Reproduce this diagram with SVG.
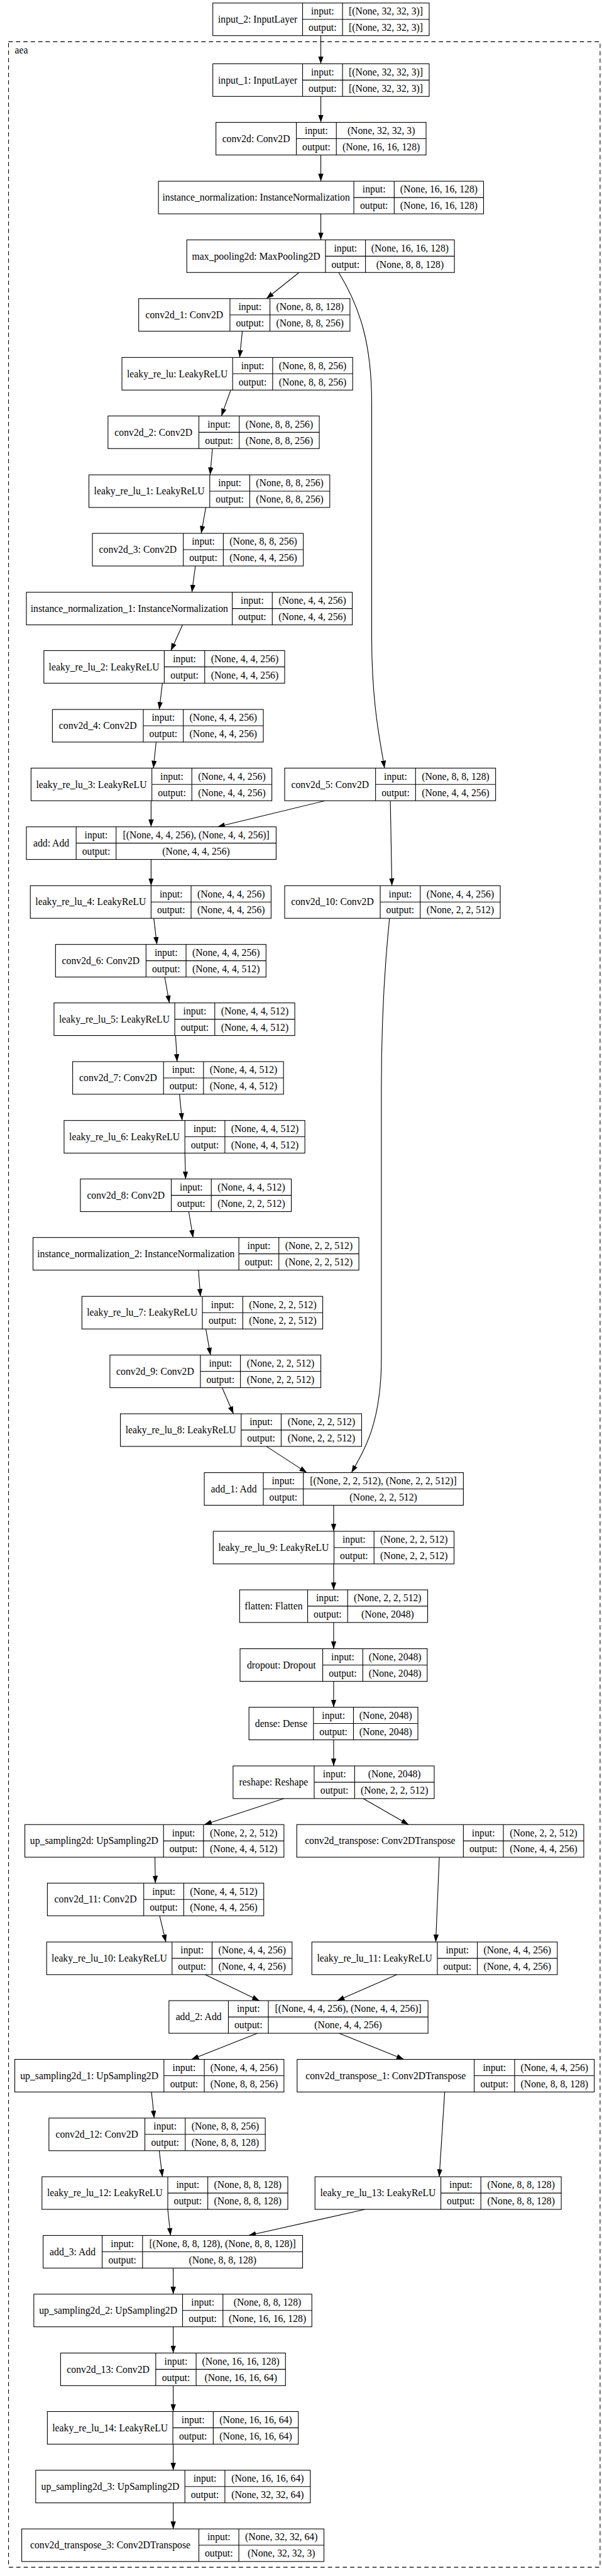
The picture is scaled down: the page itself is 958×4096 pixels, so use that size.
<svg xmlns="http://www.w3.org/2000/svg" width="958" height="4096" viewBox="0 0 958 4096">
<style>
.node rect{fill:#fff;stroke:#000;stroke-width:1.3}
.node path{fill:none;stroke:#000;stroke-width:1.3}
text{font-family:"Liberation Serif","Times New Roman",serif;font-size:18.67px;text-anchor:middle;fill:#000}
#edges path{fill:none;stroke:#000;stroke-width:1.3;marker-end:url(#ah)}
#cluster_aea rect{fill:none;stroke:#000;stroke-width:1.3;stroke-dasharray:8,6}
</style>
<defs>
<marker id="ah" markerUnits="userSpaceOnUse" markerWidth="14" markerHeight="10" refX="14" refY="5" orient="auto" viewBox="0 0 14 10"><path d="M0,0L14,5L0,10z" fill="#000"/></marker>
</defs>
<rect width="958" height="4096" fill="#fff"/>
<g transform="scale(0.8433)">
<g id="cluster_aea"><rect x="16.1" y="78.7" width="1116.3" height="4762"/><text x="27.9" y="100.7" style="text-anchor:start">aea</text></g>
<g id="edges">
<path d="M605.4,67.2V120.3"/>
<path d="M605.4,181.8V230.7"/>
<path d="M605.4,292.2V341.7"/>
<path d="M605.4,403.2V452.3"/>
<path d="M564.4,513.8L502.8,563"/>
<path d="M639.1,513.8C680,580 701.4,650 701.4,760L701.4,1200C701.4,1330 718,1400 725.6,1448.3"/>
<path d="M457.3,624.5L452.2,674"/>
<path d="M435.4,735.5L417.8,784.3"/>
<path d="M400.9,845.8L396.5,895.3"/>
<path d="M388.4,956.8L379.7,1005.7"/>
<path d="M368.7,1067.2L362.1,1116.7"/>
<path d="M344.5,1178.2L322.5,1226.7"/>
<path d="M306.4,1288.2L300.5,1337.7"/>
<path d="M294.6,1399.2L289.5,1448.3"/>
<path d="M285.1,1509.8L285.1,1559"/>
<path d="M613.4,1509.8L410.4,1559"/>
<path d="M736.6,1509.8L739.5,1670"/>
<path d="M285.1,1620.5L285.1,1670"/>
<path d="M290.2,1731.5L296.1,1780.7"/>
<path d="M310.8,1842.2L319.6,1891"/>
<path d="M331.3,1952.5L334.2,2001.7"/>
<path d="M338.6,2063.2L343.7,2112.7"/>
<path d="M348.9,2174.2L350.3,2223"/>
<path d="M356.2,2284.5L364.3,2333.3"/>
<path d="M374.5,2394.8L378.2,2444.3"/>
<path d="M388.4,2505.8L397.2,2555"/>
<path d="M419.2,2616.5L440.5,2665.7"/>
<path d="M502.8,2727.2L579,2776.7"/>
<path d="M735.1,1731.5C728,1800 719.7,1900 719.7,2050L719.7,2560C719.7,2680 690,2730 663.3,2776.7"/>
<path d="M629.6,2838.2V2887.3"/>
<path d="M629.6,2948.8V2997.7"/>
<path d="M629.6,3059.2V3108.7"/>
<path d="M629.6,3170.2V3219"/>
<path d="M629.6,3280.5V3329.7"/>
<path d="M535.8,3391.2L385.5,3440.3"/>
<path d="M685.3,3391.2L771,3440.3"/>
<path d="M292.4,3501.8L293.2,3550.7"/>
<path d="M829,3501.8L822.3,3661.7"/>
<path d="M301.2,3612.2L313,3661.7"/>
<path d="M387,3723.2L489.6,3772.3"/>
<path d="M749,3723.2L636.2,3772.3"/>
<path d="M485.9,3833.8L361.3,3883"/>
<path d="M639.8,3833.8L762.2,3883"/>
<path d="M285.8,3944.5L291,3993.7"/>
<path d="M839.2,3944.5L828.9,4104.3"/>
<path d="M300.5,4055.2L306.4,4104.3"/>
<path d="M316.6,4165.8L321.8,4215"/>
<path d="M689,4165.8L469.1,4215"/>
<path d="M326.9,4276.5V4325.7"/>
<path d="M326.9,4387.2V4436.7"/>
<path d="M326.9,4498.2V4547"/>
<path d="M326.9,4608.5V4657.7"/>
<path d="M326.9,4719.2V4768.3"/>
</g>
<g id="input_2" class="node" transform="translate(0,5.7)"><rect x="401.6" y="0" width="408.3" height="61.5"/><path d="M571 0V61.5M646.4 0V61.5M571 30.75H809.9"/><text x="486.3" y="37">input_2: InputLayer</text><text x="608.7" y="21.7">input:</text><text x="608.7" y="52.4">output:</text><text x="728.15" y="21.7">[(None, 32, 32, 3)]</text><text x="728.15" y="52.4">[(None, 32, 32, 3)]</text></g>
<g id="input_1" class="node" transform="translate(0,120.3)"><rect x="401.6" y="0" width="408.3" height="61.5"/><path d="M571 0V61.5M646.4 0V61.5M571 30.75H809.9"/><text x="486.3" y="37">input_1: InputLayer</text><text x="608.7" y="21.7">input:</text><text x="608.7" y="52.4">output:</text><text x="728.15" y="21.7">[(None, 32, 32, 3)]</text><text x="728.15" y="52.4">[(None, 32, 32, 3)]</text></g>
<g id="conv2d" class="node" transform="translate(0,230.7)"><rect x="407.5" y="0" width="396.5" height="61.5"/><path d="M559.2 0V61.5M634.7 0V61.5M559.2 30.75H804"/><text x="483.35" y="37">conv2d: Conv2D</text><text x="596.95" y="21.7">input:</text><text x="596.95" y="52.4">output:</text><text x="719.35" y="21.7">(None, 32, 32, 3)</text><text x="719.35" y="52.4">(None, 16, 16, 128)</text></g>
<g id="instance_normalization" class="node" transform="translate(0,341.7)"><rect x="299" y="0" width="613.5" height="61.5"/><path d="M667.7 0V61.5M743.9 0V61.5M667.7 30.75H912.5"/><text x="483.35" y="37">instance_normalization: InstanceNormalization</text><text x="705.8" y="21.7">input:</text><text x="705.8" y="52.4">output:</text><text x="828.2" y="21.7">(None, 16, 16, 128)</text><text x="828.2" y="52.4">(None, 16, 16, 128)</text></g>
<g id="max_pooling2d" class="node" transform="translate(0,452.3)"><rect x="352.5" y="0" width="505" height="61.5"/><path d="M614.2 0V61.5M689.7 0V61.5M614.2 30.75H857.5"/><text x="483.35" y="37">max_pooling2d: MaxPooling2D</text><text x="651.95" y="21.7">input:</text><text x="651.95" y="52.4">output:</text><text x="773.6" y="21.7">(None, 16, 16, 128)</text><text x="773.6" y="52.4">(None, 8, 8, 128)</text></g>
<g id="conv2d_1" class="node" transform="translate(0,563)"><rect x="261.7" y="0" width="398.7" height="61.5"/><path d="M433.9 0V61.5M509.4 0V61.5M433.9 30.75H660.4"/><text x="347.8" y="37">conv2d_1: Conv2D</text><text x="471.65" y="21.7">input:</text><text x="471.65" y="52.4">output:</text><text x="584.9" y="21.7">(None, 8, 8, 128)</text><text x="584.9" y="52.4">(None, 8, 8, 256)</text></g>
<g id="leaky_re_lu" class="node" transform="translate(0,674)"><rect x="230.1" y="0" width="435.4" height="61.5"/><path d="M439 0V61.5M514.5 0V61.5M439 30.75H665.5"/><text x="334.55" y="37">leaky_re_lu: LeakyReLU</text><text x="476.75" y="21.7">input:</text><text x="476.75" y="52.4">output:</text><text x="590" y="21.7">(None, 8, 8, 256)</text><text x="590" y="52.4">(None, 8, 8, 256)</text></g>
<g id="conv2d_2" class="node" transform="translate(0,784.3)"><rect x="203.8" y="0" width="398.7" height="61.5"/><path d="M375.3 0V61.5M451.5 0V61.5M375.3 30.75H602.5"/><text x="289.55" y="37">conv2d_2: Conv2D</text><text x="413.4" y="21.7">input:</text><text x="413.4" y="52.4">output:</text><text x="527" y="21.7">(None, 8, 8, 256)</text><text x="527" y="52.4">(None, 8, 8, 256)</text></g>
<g id="leaky_re_lu_1" class="node" transform="translate(0,895.3)"><rect x="167.8" y="0" width="454.5" height="61.5"/><path d="M395.8 0V61.5M471.3 0V61.5M395.8 30.75H622.3"/><text x="281.8" y="37">leaky_re_lu_1: LeakyReLU</text><text x="433.55" y="21.7">input:</text><text x="433.55" y="52.4">output:</text><text x="546.8" y="21.7">(None, 8, 8, 256)</text><text x="546.8" y="52.4">(None, 8, 8, 256)</text></g>
<g id="conv2d_3" class="node" transform="translate(0,1005.7)"><rect x="174.4" y="0" width="398" height="61.5"/><path d="M345.9 0V61.5M421.4 0V61.5M345.9 30.75H572.4"/><text x="260.15" y="37">conv2d_3: Conv2D</text><text x="383.65" y="21.7">input:</text><text x="383.65" y="52.4">output:</text><text x="496.9" y="21.7">(None, 8, 8, 256)</text><text x="496.9" y="52.4">(None, 4, 4, 256)</text></g>
<g id="instance_normalization_1" class="node" transform="translate(0,1116.7)"><rect x="49.8" y="0" width="615" height="61.5"/><path d="M438.3 0V61.5M513.8 0V61.5M438.3 30.75H664.8"/><text x="244.05" y="37">instance_normalization_1: InstanceNormalization</text><text x="476.05" y="21.7">input:</text><text x="476.05" y="52.4">output:</text><text x="589.3" y="21.7">(None, 4, 4, 256)</text><text x="589.3" y="52.4">(None, 4, 4, 256)</text></g>
<g id="leaky_re_lu_2" class="node" transform="translate(0,1226.7)"><rect x="82.8" y="0" width="454.4" height="61.5"/><path d="M310 0V61.5M386.3 0V61.5M310 30.75H537.2"/><text x="196.4" y="37">leaky_re_lu_2: LeakyReLU</text><text x="348.15" y="21.7">input:</text><text x="348.15" y="52.4">output:</text><text x="461.75" y="21.7">(None, 4, 4, 256)</text><text x="461.75" y="52.4">(None, 4, 4, 256)</text></g>
<g id="conv2d_4" class="node" transform="translate(0,1337.7)"><rect x="98.9" y="0" width="398" height="61.5"/><path d="M270.4 0V61.5M345.9 0V61.5M270.4 30.75H496.9"/><text x="184.65" y="37">conv2d_4: Conv2D</text><text x="308.15" y="21.7">input:</text><text x="308.15" y="52.4">output:</text><text x="421.4" y="21.7">(None, 4, 4, 256)</text><text x="421.4" y="52.4">(None, 4, 4, 256)</text></g>
<g id="leaky_re_lu_3" class="node" transform="translate(0,1448.3)"><rect x="58.6" y="0" width="454.4" height="61.5"/><path d="M286.6 0V61.5M362 0V61.5M286.6 30.75H513"/><text x="172.6" y="37">leaky_re_lu_3: LeakyReLU</text><text x="324.3" y="21.7">input:</text><text x="324.3" y="52.4">output:</text><text x="437.5" y="21.7">(None, 4, 4, 256)</text><text x="437.5" y="52.4">(None, 4, 4, 256)</text></g>
<g id="conv2d_5" class="node" transform="translate(0,1448.3)"><rect x="537.2" y="0" width="398" height="61.5"/><path d="M708.7 0V61.5M784.2 0V61.5M708.7 30.75H935.2"/><text x="622.95" y="37">conv2d_5: Conv2D</text><text x="746.45" y="21.7">input:</text><text x="746.45" y="52.4">output:</text><text x="859.7" y="21.7">(None, 8, 8, 128)</text><text x="859.7" y="52.4">(None, 4, 4, 256)</text></g>
<g id="add" class="node" transform="translate(0,1559)"><rect x="49.8" y="0" width="471.3" height="61.5"/><path d="M143.7 0V61.5M219.1 0V61.5M143.7 30.75H521.1"/><text x="96.75" y="37">add: Add</text><text x="181.4" y="21.7">input:</text><text x="181.4" y="52.4">output:</text><text x="370.1" y="21.7">[(None, 4, 4, 256), (None, 4, 4, 256)]</text><text x="370.1" y="52.4">(None, 4, 4, 256)</text></g>
<g id="leaky_re_lu_4" class="node" transform="translate(0,1670)"><rect x="57.2" y="0" width="454.4" height="61.5"/><path d="M285.1 0V61.5M360.6 0V61.5M285.1 30.75H511.6"/><text x="171.15" y="37">leaky_re_lu_4: LeakyReLU</text><text x="322.85" y="21.7">input:</text><text x="322.85" y="52.4">output:</text><text x="436.1" y="21.7">(None, 4, 4, 256)</text><text x="436.1" y="52.4">(None, 4, 4, 256)</text></g>
<g id="conv2d_10" class="node" transform="translate(0,1670)"><rect x="537.2" y="0" width="406.8" height="61.5"/><path d="M717.5 0V61.5M793 0V61.5M717.5 30.75H944"/><text x="627.35" y="37">conv2d_10: Conv2D</text><text x="755.25" y="21.7">input:</text><text x="755.25" y="52.4">output:</text><text x="868.5" y="21.7">(None, 4, 4, 256)</text><text x="868.5" y="52.4">(None, 2, 2, 512)</text></g>
<g id="conv2d_6" class="node" transform="translate(0,1780.7)"><rect x="104.8" y="0" width="397.2" height="61.5"/><path d="M275.6 0V61.5M351.1 0V61.5M275.6 30.75H502"/><text x="190.2" y="37">conv2d_6: Conv2D</text><text x="313.35" y="21.7">input:</text><text x="313.35" y="52.4">output:</text><text x="426.55" y="21.7">(None, 4, 4, 256)</text><text x="426.55" y="52.4">(None, 4, 4, 512)</text></g>
<g id="leaky_re_lu_5" class="node" transform="translate(0,1891)"><rect x="101.9" y="0" width="454.4" height="61.5"/><path d="M329.8 0V61.5M405.3 0V61.5M329.8 30.75H556.3"/><text x="215.85" y="37">leaky_re_lu_5: LeakyReLU</text><text x="367.55" y="21.7">input:</text><text x="367.55" y="52.4">output:</text><text x="480.8" y="21.7">(None, 4, 4, 512)</text><text x="480.8" y="52.4">(None, 4, 4, 512)</text></g>
<g id="conv2d_7" class="node" transform="translate(0,2001.7)"><rect x="137.1" y="0" width="397.9" height="61.5"/><path d="M308.6 0V61.5M384 0V61.5M308.6 30.75H535"/><text x="222.85" y="37">conv2d_7: Conv2D</text><text x="346.3" y="21.7">input:</text><text x="346.3" y="52.4">output:</text><text x="459.5" y="21.7">(None, 4, 4, 512)</text><text x="459.5" y="52.4">(None, 4, 4, 512)</text></g>
<g id="leaky_re_lu_6" class="node" transform="translate(0,2112.7)"><rect x="120.9" y="0" width="454.4" height="61.5"/><path d="M348.9 0V61.5M424.4 0V61.5M348.9 30.75H575.3"/><text x="234.9" y="37">leaky_re_lu_6: LeakyReLU</text><text x="386.65" y="21.7">input:</text><text x="386.65" y="52.4">output:</text><text x="499.85" y="21.7">(None, 4, 4, 512)</text><text x="499.85" y="52.4">(None, 4, 4, 512)</text></g>
<g id="conv2d_8" class="node" transform="translate(0,2223)"><rect x="151.7" y="0" width="398" height="61.5"/><path d="M323.2 0V61.5M398.7 0V61.5M323.2 30.75H549.7"/><text x="237.45" y="37">conv2d_8: Conv2D</text><text x="360.95" y="21.7">input:</text><text x="360.95" y="52.4">output:</text><text x="474.2" y="21.7">(None, 4, 4, 512)</text><text x="474.2" y="52.4">(None, 2, 2, 512)</text></g>
<g id="instance_normalization_2" class="node" transform="translate(0,2333.3)"><rect x="62.3" y="0" width="614.9" height="61.5"/><path d="M450.7 0V61.5M526.2 0V61.5M450.7 30.75H677.2"/><text x="256.5" y="37">instance_normalization_2: InstanceNormalization</text><text x="488.45" y="21.7">input:</text><text x="488.45" y="52.4">output:</text><text x="601.7" y="21.7">(None, 2, 2, 512)</text><text x="601.7" y="52.4">(None, 2, 2, 512)</text></g>
<g id="leaky_re_lu_7" class="node" transform="translate(0,2444.3)"><rect x="154.6" y="0" width="454.4" height="61.5"/><path d="M381.9 0V61.5M458.1 0V61.5M381.9 30.75H609"/><text x="268.25" y="37">leaky_re_lu_7: LeakyReLU</text><text x="420" y="21.7">input:</text><text x="420" y="52.4">output:</text><text x="533.55" y="21.7">(None, 2, 2, 512)</text><text x="533.55" y="52.4">(None, 2, 2, 512)</text></g>
<g id="conv2d_9" class="node" transform="translate(0,2555)"><rect x="207.4" y="0" width="398" height="61.5"/><path d="M378.2 0V61.5M453.7 0V61.5M378.2 30.75H605.4"/><text x="292.8" y="37">conv2d_9: Conv2D</text><text x="415.95" y="21.7">input:</text><text x="415.95" y="52.4">output:</text><text x="529.55" y="21.7">(None, 2, 2, 512)</text><text x="529.55" y="52.4">(None, 2, 2, 512)</text></g>
<g id="leaky_re_lu_8" class="node" transform="translate(0,2665.7)"><rect x="227.2" y="0" width="455.2" height="61.5"/><path d="M455.1 0V61.5M530.6 0V61.5M455.1 30.75H682.4"/><text x="341.15" y="37">leaky_re_lu_8: LeakyReLU</text><text x="492.85" y="21.7">input:</text><text x="492.85" y="52.4">output:</text><text x="606.5" y="21.7">(None, 2, 2, 512)</text><text x="606.5" y="52.4">(None, 2, 2, 512)</text></g>
<g id="add_1" class="node" transform="translate(0,2776.7)"><rect x="385.5" y="0" width="488.9" height="61.5"/><path d="M496.9 0V61.5M572.4 0V61.5M496.9 30.75H874.4"/><text x="441.2" y="37">add_1: Add</text><text x="534.65" y="21.7">input:</text><text x="534.65" y="52.4">output:</text><text x="723.4" y="21.7">[(None, 2, 2, 512), (None, 2, 2, 512)]</text><text x="723.4" y="52.4">(None, 2, 2, 512)</text></g>
<g id="leaky_re_lu_9" class="node" transform="translate(0,2887.3)"><rect x="402.4" y="0" width="454.4" height="61.5"/><path d="M630.3 0V61.5M705.8 0V61.5M630.3 30.75H856.8"/><text x="516.35" y="37">leaky_re_lu_9: LeakyReLU</text><text x="668.05" y="21.7">input:</text><text x="668.05" y="52.4">output:</text><text x="781.3" y="21.7">(None, 2, 2, 512)</text><text x="781.3" y="52.4">(None, 2, 2, 512)</text></g>
<g id="flatten" class="node" transform="translate(0,2997.7)"><rect x="452.2" y="0" width="354.8" height="61.5"/><path d="M580.5 0V61.5M656 0V61.5M580.5 30.75H807"/><text x="516.35" y="37">flatten: Flatten</text><text x="618.25" y="21.7">input:</text><text x="618.25" y="52.4">output:</text><text x="731.5" y="21.7">(None, 2, 2, 512)</text><text x="731.5" y="52.4">(None, 2048)</text></g>
<g id="dropout" class="node" transform="translate(0,3108.7)"><rect x="453" y="0" width="353.2" height="61.5"/><path d="M609 0V61.5M684.6 0V61.5M609 30.75H806.2"/><text x="531" y="37">dropout: Dropout</text><text x="646.8" y="21.7">input:</text><text x="646.8" y="52.4">output:</text><text x="745.4" y="21.7">(None, 2048)</text><text x="745.4" y="52.4">(None, 2048)</text></g>
<g id="dense" class="node" transform="translate(0,3219)"><rect x="469.8" y="0" width="318.8" height="61.5"/><path d="M591.5 0V61.5M667 0V61.5M591.5 30.75H788.6"/><text x="530.65" y="37">dense: Dense</text><text x="629.25" y="21.7">input:</text><text x="629.25" y="52.4">output:</text><text x="727.8" y="21.7">(None, 2048)</text><text x="727.8" y="52.4">(None, 2048)</text></g>
<g id="reshape" class="node" transform="translate(0,3329.7)"><rect x="439.8" y="0" width="379.6" height="61.5"/><path d="M592.9 0V61.5M669.2 0V61.5M592.9 30.75H819.4"/><text x="516.35" y="37">reshape: Reshape</text><text x="631.05" y="21.7">input:</text><text x="631.05" y="52.4">output:</text><text x="744.3" y="21.7">(None, 2048)</text><text x="744.3" y="52.4">(None, 2, 2, 512)</text></g>
<g id="up_sampling2d" class="node" transform="translate(0,3440.3)"><rect x="46.9" y="0" width="488.9" height="61.5"/><path d="M308.6 0V61.5M384 0V61.5M308.6 30.75H535.8"/><text x="177.75" y="37">up_sampling2d: UpSampling2D</text><text x="346.3" y="21.7">input:</text><text x="346.3" y="52.4">output:</text><text x="459.9" y="21.7">(None, 2, 2, 512)</text><text x="459.9" y="52.4">(None, 4, 4, 512)</text></g>
<g id="conv2d_transpose" class="node" transform="translate(0,3440.3)"><rect x="560" y="0" width="541.6" height="61.5"/><path d="M874.4 0V61.5M949.9 0V61.5M874.4 30.75H1101.6"/><text x="717.2" y="37">conv2d_transpose: Conv2DTranspose</text><text x="912.15" y="21.7">input:</text><text x="912.15" y="52.4">output:</text><text x="1025.75" y="21.7">(None, 2, 2, 512)</text><text x="1025.75" y="52.4">(None, 4, 4, 256)</text></g>
<g id="conv2d_11" class="node" transform="translate(0,3550.7)"><rect x="89.4" y="0" width="408.3" height="61.5"/><path d="M271.2 0V61.5M346.7 0V61.5M271.2 30.75H497.7"/><text x="180.3" y="37">conv2d_11: Conv2D</text><text x="308.95" y="21.7">input:</text><text x="308.95" y="52.4">output:</text><text x="422.2" y="21.7">(None, 4, 4, 512)</text><text x="422.2" y="52.4">(None, 4, 4, 256)</text></g>
<g id="leaky_re_lu_10" class="node" transform="translate(0,3661.7)"><rect x="88" y="0" width="463.2" height="61.5"/><path d="M324.7 0V61.5M400.2 0V61.5M324.7 30.75H551.2"/><text x="206.35" y="37">leaky_re_lu_10: LeakyReLU</text><text x="362.45" y="21.7">input:</text><text x="362.45" y="52.4">output:</text><text x="475.7" y="21.7">(None, 4, 4, 256)</text><text x="475.7" y="52.4">(None, 4, 4, 256)</text></g>
<g id="leaky_re_lu_11" class="node" transform="translate(0,3661.7)"><rect x="588.5" y="0" width="463.2" height="61.5"/><path d="M825.3 0V61.5M900.8 0V61.5M825.3 30.75H1051.7"/><text x="706.9" y="37">leaky_re_lu_11: LeakyReLU</text><text x="863.05" y="21.7">input:</text><text x="863.05" y="52.4">output:</text><text x="976.25" y="21.7">(None, 4, 4, 256)</text><text x="976.25" y="52.4">(None, 4, 4, 256)</text></g>
<g id="add_2" class="node" transform="translate(0,3772.3)"><rect x="318.8" y="0" width="488.9" height="61.5"/><path d="M431 0V61.5M506.4 0V61.5M431 30.75H807.7"/><text x="374.9" y="37">add_2: Add</text><text x="468.7" y="21.7">input:</text><text x="468.7" y="52.4">output:</text><text x="657.05" y="21.7">[(None, 4, 4, 256), (None, 4, 4, 256)]</text><text x="657.05" y="52.4">(None, 4, 4, 256)</text></g>
<g id="up_sampling2d_1" class="node" transform="translate(0,3883)"><rect x="27.9" y="0" width="507.9" height="61.5"/><path d="M309.3 0V61.5M385.5 0V61.5M309.3 30.75H535.8"/><text x="168.6" y="37">up_sampling2d_1: UpSampling2D</text><text x="347.4" y="21.7">input:</text><text x="347.4" y="52.4">output:</text><text x="460.65" y="21.7">(None, 4, 4, 256)</text><text x="460.65" y="52.4">(None, 8, 8, 256)</text></g>
<g id="conv2d_transpose_1" class="node" transform="translate(0,3883)"><rect x="560.7" y="0" width="560.7" height="61.5"/><path d="M894.9 0V61.5M971.1 0V61.5M894.9 30.75H1121.4"/><text x="727.8" y="37">conv2d_transpose_1: Conv2DTranspose</text><text x="933" y="21.7">input:</text><text x="933" y="52.4">output:</text><text x="1046.25" y="21.7">(None, 4, 4, 256)</text><text x="1046.25" y="52.4">(None, 8, 8, 128)</text></g>
<g id="conv2d_12" class="node" transform="translate(0,3993.7)"><rect x="92.3" y="0" width="408.3" height="61.5"/><path d="M273.4 0V61.5M349.6 0V61.5M273.4 30.75H500.6"/><text x="182.85" y="37">conv2d_12: Conv2D</text><text x="311.5" y="21.7">input:</text><text x="311.5" y="52.4">output:</text><text x="425.1" y="21.7">(None, 8, 8, 256)</text><text x="425.1" y="52.4">(None, 8, 8, 128)</text></g>
<g id="leaky_re_lu_12" class="node" transform="translate(0,4104.3)"><rect x="79.2" y="0" width="463.9" height="61.5"/><path d="M316.6 0V61.5M392.1 0V61.5M316.6 30.75H543.1"/><text x="197.9" y="37">leaky_re_lu_12: LeakyReLU</text><text x="354.35" y="21.7">input:</text><text x="354.35" y="52.4">output:</text><text x="467.6" y="21.7">(None, 8, 8, 128)</text><text x="467.6" y="52.4">(None, 8, 8, 128)</text></g>
<g id="leaky_re_lu_13" class="node" transform="translate(0,4104.3)"><rect x="594.4" y="0" width="464.7" height="61.5"/><path d="M831.9 0V61.5M907.4 0V61.5M831.9 30.75H1059.1"/><text x="713.15" y="37">leaky_re_lu_13: LeakyReLU</text><text x="869.65" y="21.7">input:</text><text x="869.65" y="52.4">output:</text><text x="983.25" y="21.7">(None, 8, 8, 128)</text><text x="983.25" y="52.4">(None, 8, 8, 128)</text></g>
<g id="add_3" class="node" transform="translate(0,4215)"><rect x="81.4" y="0" width="489.6" height="61.5"/><path d="M192.8 0V61.5M269 0V61.5M192.8 30.75H571"/><text x="137.1" y="37">add_3: Add</text><text x="230.9" y="21.7">input:</text><text x="230.9" y="52.4">output:</text><text x="420" y="21.7">[(None, 8, 8, 128), (None, 8, 8, 128)]</text><text x="420" y="52.4">(None, 8, 8, 128)</text></g>
<g id="up_sampling2d_2" class="node" transform="translate(0,4325.7)"><rect x="63.8" y="0" width="524.7" height="61.5"/><path d="M344.5 0V61.5M420.7 0V61.5M344.5 30.75H588.5"/><text x="204.15" y="37">up_sampling2d_2: UpSampling2D</text><text x="382.6" y="21.7">input:</text><text x="382.6" y="52.4">output:</text><text x="504.6" y="21.7">(None, 8, 8, 128)</text><text x="504.6" y="52.4">(None, 16, 16, 128)</text></g>
<g id="conv2d_13" class="node" transform="translate(0,4436.7)"><rect x="114.3" y="0" width="424.4" height="61.5"/><path d="M293.9 0V61.5M370.1 0V61.5M293.9 30.75H538.7"/><text x="204.1" y="37">conv2d_13: Conv2D</text><text x="332" y="21.7">input:</text><text x="332" y="52.4">output:</text><text x="454.4" y="21.7">(None, 16, 16, 128)</text><text x="454.4" y="52.4">(None, 16, 16, 64)</text></g>
<g id="leaky_re_lu_14" class="node" transform="translate(0,4547)"><rect x="89.4" y="0" width="473.5" height="61.5"/><path d="M326.2 0V61.5M402.4 0V61.5M326.2 30.75H562.9"/><text x="207.8" y="37">leaky_re_lu_14: LeakyReLU</text><text x="364.3" y="21.7">input:</text><text x="364.3" y="52.4">output:</text><text x="482.65" y="21.7">(None, 16, 16, 64)</text><text x="482.65" y="52.4">(None, 16, 16, 64)</text></g>
<g id="up_sampling2d_3" class="node" transform="translate(0,4657.7)"><rect x="67.4" y="0" width="518.2" height="61.5"/><path d="M348.9 0V61.5M424.4 0V61.5M348.9 30.75H585.6"/><text x="208.15" y="37">up_sampling2d_3: UpSampling2D</text><text x="386.65" y="21.7">input:</text><text x="386.65" y="52.4">output:</text><text x="505" y="21.7">(None, 16, 16, 64)</text><text x="505" y="52.4">(None, 32, 32, 64)</text></g>
<g id="conv2d_transpose_3" class="node" transform="translate(0,4768.3)"><rect x="41" y="0" width="570.3" height="61.5"/><path d="M375.3 0V61.5M450.7 0V61.5M375.3 30.75H611.3"/><text x="208.15" y="37">conv2d_transpose_3: Conv2DTranspose</text><text x="413" y="21.7">input:</text><text x="413" y="52.4">output:</text><text x="531" y="21.7">(None, 32, 32, 64)</text><text x="531" y="52.4">(None, 32, 32, 3)</text></g>
</g>
</svg>
